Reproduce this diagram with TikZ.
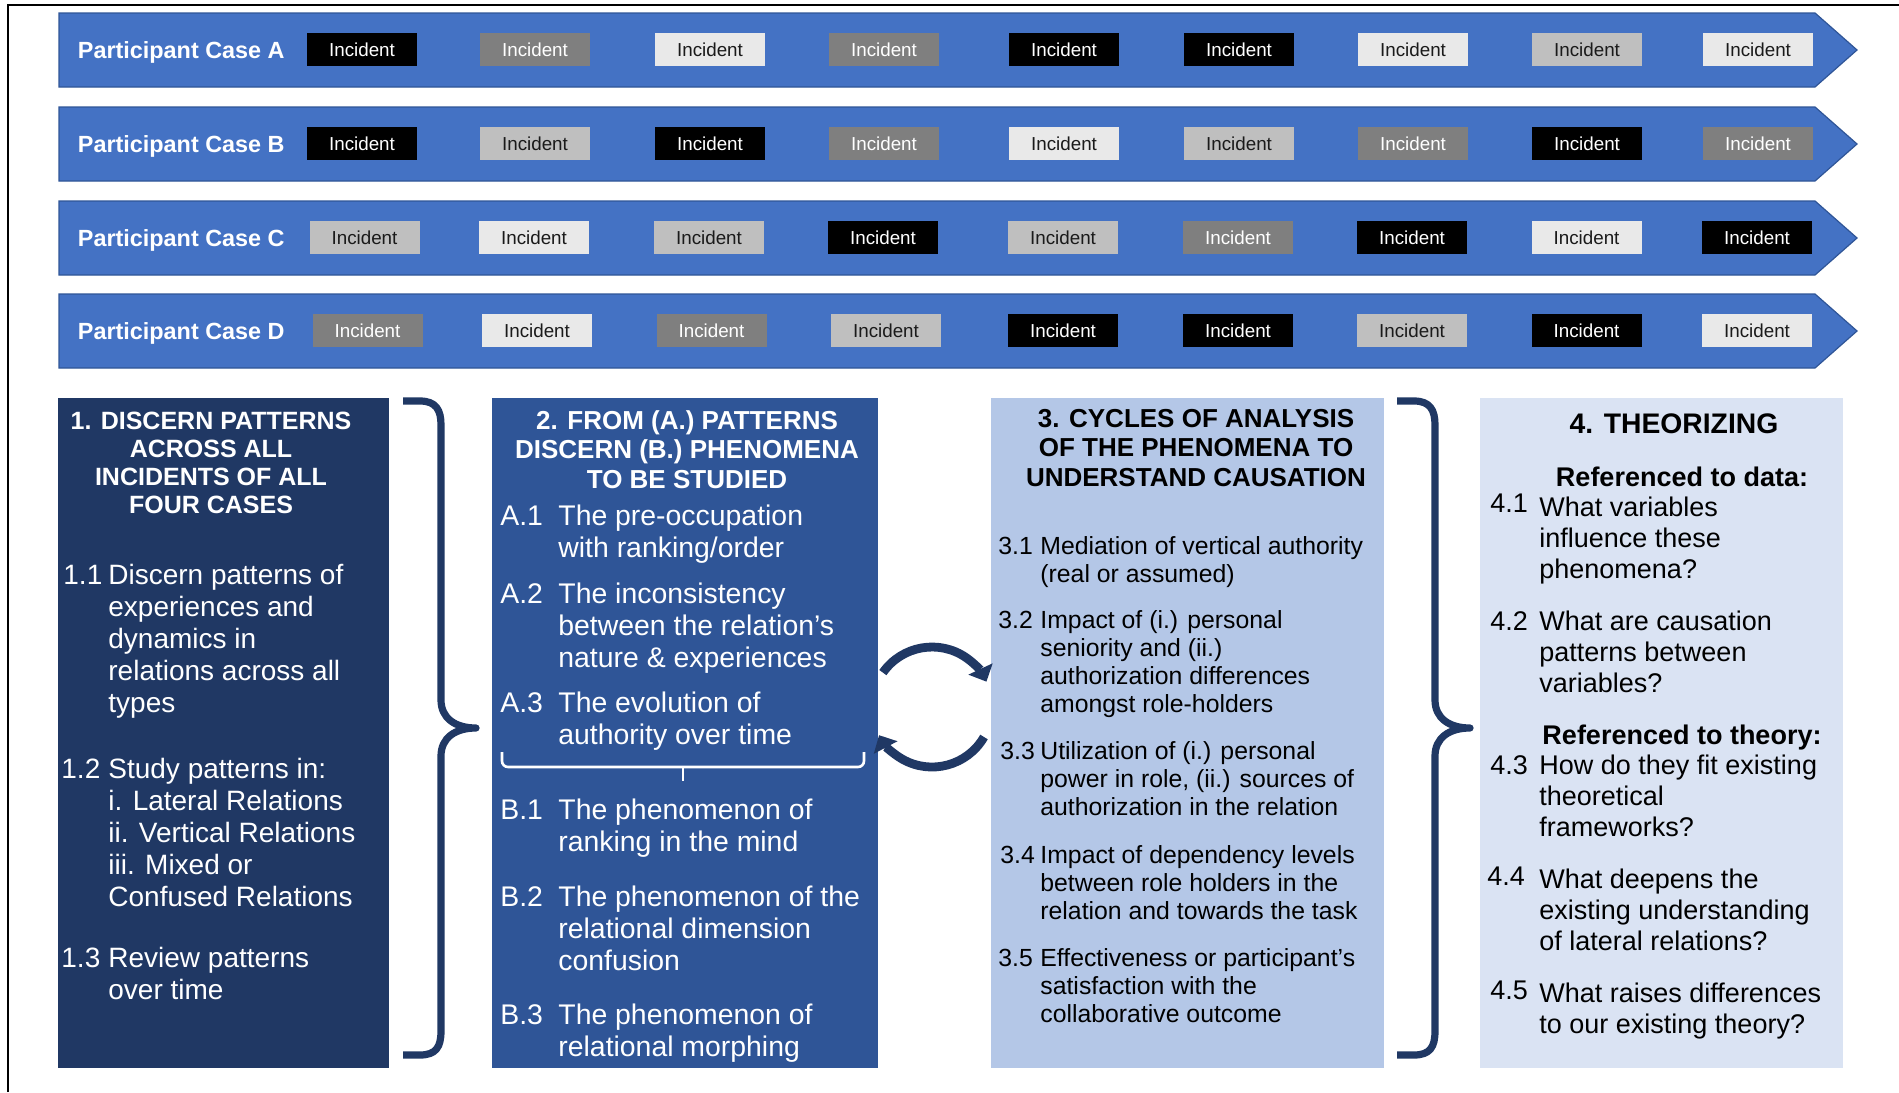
\documentclass[tikz,border=0pt]{standalone}
\usepackage{fontspec}
\setmainfont{Liberation Sans}
\usetikzlibrary{arrows.meta}
\definecolor{banner}{HTML}{4472C4}
\definecolor{bannerline}{HTML}{2F5597}
\definecolor{navy}{HTML}{203864}
\definecolor{midblue}{HTML}{2F5597}
\definecolor{lightblue}{HTML}{B4C7E7}
\definecolor{paleblue}{HTML}{DAE3F3}
\definecolor{incG}{HTML}{7F7F7F}
\definecolor{incL}{HTML}{BFBFBF}
\definecolor{incW}{HTML}{E9E9E9}
\definecolor{ink}{HTML}{1A1A1A}
\tikzset{
  incbox/.style={minimum width=55pt, minimum height=16.7pt, inner sep=0pt,
    font=\fontsize{9.4}{11}\selectfont},
  incK/.style={incbox, fill=black, text=white},
  incG/.style={incbox, fill=incG, text=white},
  incL/.style={incbox, fill=incL, text=ink},
  incW/.style={incbox, fill=incW, text=ink},
  caselbl/.style={inner sep=0pt, anchor=base west, text=white,
    font=\bfseries\fontsize{11.7}{14}\selectfont},
  headA/.style={inner sep=0pt, anchor=base, align=center, text=white,
    font=\bfseries\fontsize{12.5}{14}\selectfont},
  headB/.style={inner sep=0pt, anchor=base, align=center, text=white,
    font=\bfseries\fontsize{13}{14.85}\selectfont},
  headC/.style={inner sep=0pt, anchor=base, align=center, text=black,
    font=\bfseries\fontsize{13}{14.75}\selectfont},
  itemA/.style={inner sep=0pt, anchor=base west, align=left, text=white,
    font=\fontsize{14}{16}\selectfont},
  itemB/.style={inner sep=0pt, anchor=base west, align=left, text=white,
    font=\fontsize{14.2}{16}\selectfont},
  itemC/.style={inner sep=0pt, anchor=base west, align=left, text=black,
    font=\fontsize{12.4}{14.15}\selectfont},
  itemD/.style={inner sep=0pt, anchor=base west, align=left, text=black,
    font=\fontsize{13.5}{15.5}\selectfont},
  subhead/.style={inner sep=0pt, anchor=base, text=black,
    font=\bfseries\fontsize{13.5}{15.5}\selectfont},
  bracestyle/.style={draw=navy, line width=3.6pt, line cap=butt, line join=round},
  cyclearrow/.style={draw=navy, line width=4.4pt, -{Triangle[width=13pt,length=7pt]}}
}
\begin{document}
\begin{tikzpicture}[x=0.5pt,y=-0.5pt]
\useasboundingbox (0,0) rectangle (1899,1092);
\fill[white] (0,0) rectangle (1899,1092);
\draw[black, line width=1.2pt] (8,1092) -- (8,5) -- (1899,5);

% banners (multi-line nodes below are anchored at the baseline of their last line)
\foreach \r/\yt/\list in {
  A/13/{362/K,535/G,710/W,884/G,1064/K,1239/K,1413/W,1587/L,1758/W},
  B/107/{362/K,535/L,710/K,884/G,1064/W,1239/L,1413/G,1587/K,1758/G},
  C/201/{364.5/L,534/W,709/L,883/K,1063/L,1238/G,1412/K,1586.5/W,1757/K},
  D/294/{367.5/G,537/W,711.5/G,886/L,1063/K,1238/K,1412/L,1586.5/K,1757/W}}{
  \filldraw[fill=banner, draw=bannerline, line width=0.6pt]
    (59,\yt) -- (1815,\yt) -- (1857,\yt+37) -- (1815,\yt+74) -- (59,\yt+74) -- cycle;
  \node[caselbl] (case\r) at (77.5,\yt+45) {Participant Case \r};
  \foreach \xx/\c [count=\i] in \list {
    \node[inc\c] (inc\r\i) at (\xx,\yt+36.5) {Incident};
  }
}

% panels
\fill[navy] (58,398) rectangle (389,1068);
\fill[midblue] (492,398) rectangle (878,1068);
\fill[lightblue] (991,398) rectangle (1384,1068);
\fill[paleblue] (1480,398) rectangle (1843,1068);

% panel 1
\node[headA] (h1) at (211,513) {1. DISCERN PATTERNS\\ACROSS ALL\\INCIDENTS OF ALL\\FOUR CASES};
\node[itemA] (n11) at (63,584) {1.1};
\node[itemA] (t11) at (108,712) {Discern patterns of\\experiences and\\dynamics in\\relations across all\\types};
\node[itemA] (n12) at (61,778) {1.2};
\node[itemA] (t12) at (108,906) {Study patterns in:\\i. Lateral Relations\\ii. Vertical Relations\\iii. Mixed or\\Confused Relations};
\node[itemA] (n13) at (61,967) {1.3};
\node[itemA] (t13) at (108,999) {Review patterns\\over time};

% panel 2
\node[headB] (h2) at (687,488.4) {2. FROM (A.) PATTERNS\\DISCERN (B.) PHENOMENA\\TO BE STUDIED};
\node[itemB] (nA1) at (500,525) {A.1};
\node[itemB] (tA1) at (558,557) {The pre-occupation\\with ranking/order};
\node[itemB] (nA2) at (500,603) {A.2};
\node[itemB] (tA2) at (558,667) {The inconsistency\\between the relation’s\\nature \& experiences};
\node[itemB] (nA3) at (500,712) {A.3};
\node[itemB] (tA3) at (558,744) {The evolution of\\authority over time};
\draw[white, line width=1.3pt, rounded corners=3pt] (502,752) -- (502,767) -- (864,767) -- (864,752);
\coordinate (tickend) at (683,781);
\draw[white, line width=1.3pt] (683,767) -- (tickend);
\node[itemB] (nB1) at (500,819) {B.1};
\node[itemB] (tB1) at (558,851) {The phenomenon of\\ranking in the mind};
\node[itemB] (nB2) at (500,906) {B.2};
\node[itemB] (tB2) at (558,970) {The phenomenon of the\\relational dimension\\confusion};
\node[itemB] (nB3) at (500,1024) {B.3};
\node[itemB] (tB3) at (558,1056) {The phenomenon of\\relational morphing};

% panel 3
\node[headC] (h3) at (1196,486) {3. CYCLES OF ANALYSIS\\OF THE PHENOMENA TO\\UNDERSTAND CAUSATION};
\node[itemC] (n31) at (998,554) {3.1};
\node[itemC] (t31) at (1040,582.3) {Mediation of vertical authority\\(real or assumed)};
\node[itemC] (n32) at (998,628) {3.2};
\node[itemC] (t32) at (1040,712.9) {Impact of (i.) personal\\seniority and (ii.)\\authorization differences\\amongst role-holders};
\node[itemC] (n33) at (1000,759) {3.3};
\node[itemC] (t33) at (1040,815.6) {Utilization of (i.) personal\\power in role, (ii.) sources of\\authorization in the relation};
\node[itemC] (n34) at (1000,863) {3.4};
\node[itemC] (t34) at (1040,919.6) {Impact of dependency levels\\between role holders in the\\relation and towards the task};
\node[itemC] (n35) at (998,966) {3.5};
\node[itemC] (t35) at (1040,1022.6) {Effectiveness or participant’s\\satisfaction with the\\collaborative outcome};

% panel 4
\node[subhead, font=\bfseries\fontsize{14.15}{16}\selectfont] (h4) at (1674,433) {4. THEORIZING};
\node[subhead] (refdata) at (1682,486) {Referenced to data:};
\node[itemD] (n41) at (1490,512) {4.1};
\node[itemD] (t41) at (1539,578) {What variables\\influence these\\phenomena?};
\node[itemD] (n42) at (1490,630) {4.2};
\node[itemD] (t42) at (1539,692) {What are causation\\patterns between\\variables?};
\node[subhead] (reftheory) at (1682,744) {Referenced to theory:};
\node[itemD] (n43) at (1490,774) {4.3};
\node[itemD] (t43) at (1539,836) {How do they fit existing\\theoretical\\frameworks?};
\node[itemD] (n44) at (1487,885) {4.4};
\node[itemD] (t44) at (1539,950) {What deepens the\\existing understanding\\of lateral relations?};
\node[itemD] (n45) at (1490,999) {4.5};
\node[itemD] (t45) at (1539,1033) {What raises differences\\to our existing theory?};

% braces
\draw[bracestyle] (403,401) -- (420,401) .. controls (436,401) and (441,410) .. (441,425)
  -- (441,700) .. controls (441,718) and (455,728) .. (476,728)
  .. controls (455,728) and (441,738) .. (441,756)
  -- (441,1031) .. controls (441,1047) and (436,1055) .. (420,1055) -- (403,1055);
\draw[bracestyle] (1397,401) -- (1414,401) .. controls (1430,401) and (1435,410) .. (1435,425)
  -- (1435,700) .. controls (1435,718) and (1449,728) .. (1470,728)
  .. controls (1449,728) and (1435,738) .. (1435,756)
  -- (1435,1031) .. controls (1435,1047) and (1430,1055) .. (1414,1055) -- (1397,1055);

% cycle arrows
\draw[cyclearrow] (882.9,672.6) arc[start angle=-145, end angle=-25, radius=60];
\draw[cyclearrow] (984,737) arc[start angle=30, end angle=152, radius=60];
\end{tikzpicture}
\end{document}
